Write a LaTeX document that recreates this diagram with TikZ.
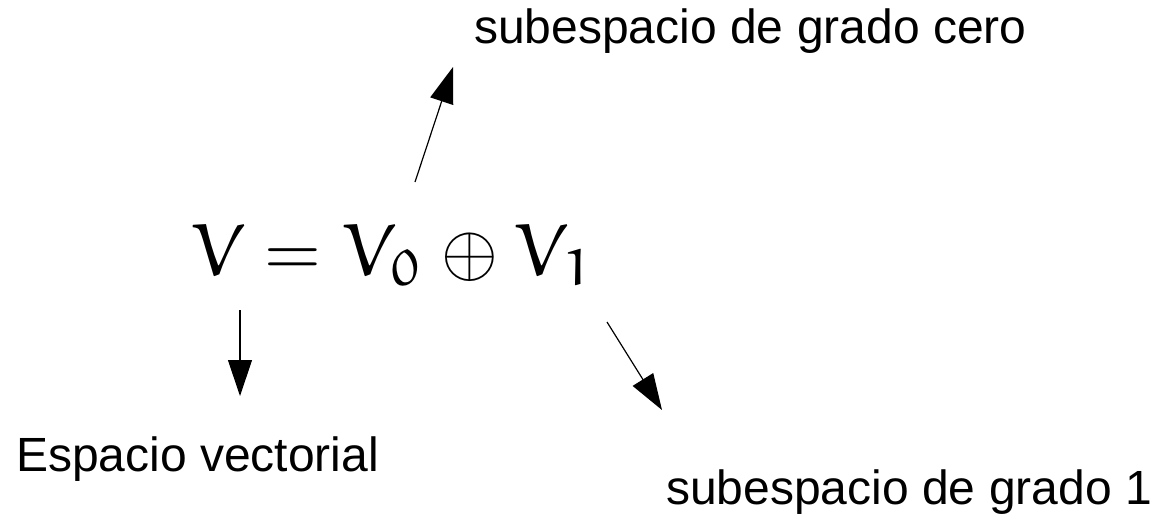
\documentclass[tikz,border=0pt]{standalone}
\usepackage[no-math]{fontspec}
\setmainfont{Liberation Sans}
\DeclareFontFamily{U}{eur}{}
\DeclareFontShape{U}{eur}{m}{n}{<-6>eurm5 <6-8>eurm7 <8->eurm10}{}
\DeclareMathAlphabet{\mathEur}{U}{eur}{m}{n}
\usetikzlibrary{arrows.meta}
\tikzset{
  lbl/.style={inner sep=0pt, font=\fontsize{48}{56}\selectfont},
  eq/.style={inner sep=0pt, scale=7.3, transform shape},
  arr/.style={line width=1.2pt, -{Triangle[length=36pt,width=24pt]}}
}
\begin{document}
\begin{tikzpicture}[x=1pt,y=-1pt]
\useasboundingbox (0,0) rectangle (1159,515);
\node[eq, anchor=base west] (eqn) at (190,275) {$\mathEur{V} = \mathEur{V}_{\mathEur{0}} \oplus \mathEur{V}_{\mathEur{1}}$};
\node[lbl, anchor=base west] (top) at (474,43) {subespacio de grado cero};
\node[lbl, anchor=base west] (left) at (16,471) {Espacio vectorial};
\node[lbl, anchor=base west] (right) at (666,504) {subespacio de grado 1};
\coordinate (s1) at (415,182);
\coordinate (t1) at (453,67);
\coordinate (s2) at (240,310);
\coordinate (t2) at (240,396);
\coordinate (s3) at (607,322);
\coordinate (t3) at (662,410);
\draw[arr] (s1) -- (t1);
\draw[arr] (s2) -- (t2);
\draw[arr] (s3) -- (t3);
\end{tikzpicture}
\end{document}
